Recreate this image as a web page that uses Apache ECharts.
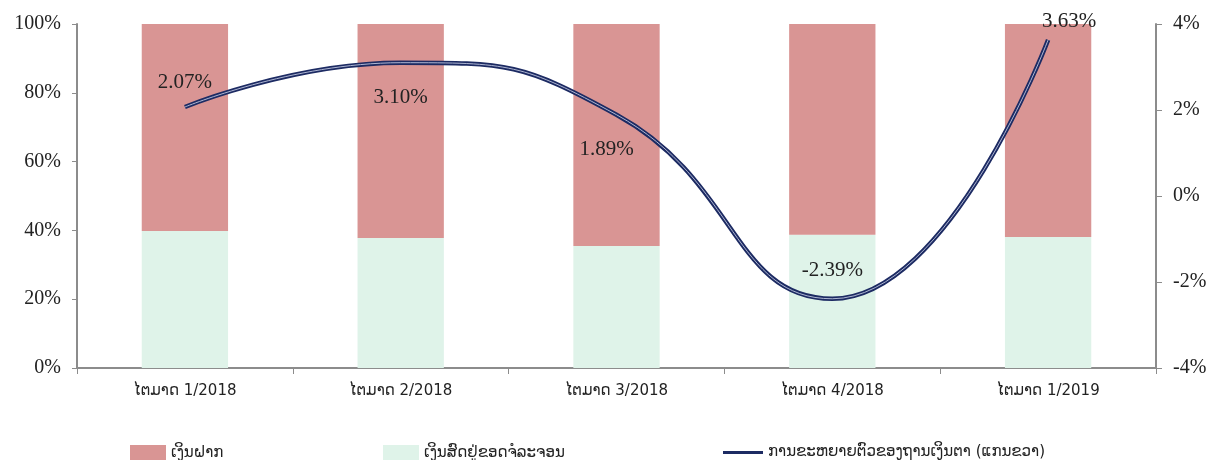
<!DOCTYPE html>
<html>
<head>
<meta charset="utf-8">
<script src="https://cdn.jsdelivr.net/npm/echarts@6/dist/echarts.min.js"></script>
<style>
	html,body{margin:0;padding:0;background:#fff;}
	#main{width:1222px;height:460px;}
</style>
</head>
<body>
<div id="main"></div>
<script>
var categories = ['ໄຕມາດ 1/2018','ໄຕມາດ 2/2018','ໄຕມາດ 3/2018','ໄຕມາດ 4/2018','ໄຕມາດ 1/2019'];
var cashShare = [39.8, 37.8, 35.5, 38.7, 38.1];
var depositShare = [60.2, 62.2, 64.5, 61.3, 61.9];
var baseGrowth = [2.07, 3.10, 1.89, -2.39, 3.63];

var nameDeposit = 'ເງິນຝາກ';
var nameCash = 'ເງິນສົດຢູ່ຂອດຈໍລະຈອນ';
var nameGrowth = 'ການຂະຫຍາຍຕົວຂອງຖານເງິນຕາ (ແກນຂວາ)';

var serif = '"Liberation Serif", "Times New Roman", serif';
var laoFont = '"DejaVu Sans", "Noto Sans", sans-serif';

// ຕຳແໜ່ງປ້າຍຂອງແຕ່ລະຈຸດ
var labelPos = [
	{position:'top', distance:14, offset:[0,0]},
	{position:'bottom', distance:24, offset:[0,0]},
	{position:'bottom', distance:24, offset:[-10,0]},
	{position:'top', distance:18, offset:[0,0]},
	{position:'top', distance:8, offset:[21,0]}
];

function growthData(){
	var res = [];
	for(var i = 0;i < baseGrowth.length;i++){
		res.push({
			value: baseGrowth[i],
			label: {
				position: labelPos[i].position,
				distance: labelPos[i].distance,
				offset: labelPos[i].offset
			}
		});
	}
	return res;
}

var chart = echarts.init(document.getElementById('main'));
var legendText = {fontFamily:laoFont, fontSize:15, color:'#222'};
var option = {
	animation: false,
	grid: {left:77, right:66, top:24, bottom:92},
	legend: [
		{left:125, top:440, itemWidth:36, itemHeight:16, itemGap:6, icon:'rect',
		 textStyle:legendText, data:[nameDeposit]},
		{left:378, top:440, itemWidth:36, itemHeight:16, itemGap:6, icon:'rect',
		 textStyle:legendText, data:[nameCash]},
		{left:718, top:440, itemWidth:40, itemHeight:16, itemGap:4,
		 textStyle:legendText,
		 data:[{name:nameGrowth, icon:'path://M0,6 L40,6 L40,9 L0,9 Z'}]}
	],
	xAxis: {
		type: 'category',
		data: categories,
		boundaryGap: true,
		axisLine: {lineStyle:{color:'#8c8c8c', width:2}},
		axisTick: {show:true, length:6, lineStyle:{color:'#8c8c8c'}},
		axisLabel: {fontFamily:laoFont, fontSize:15, color:'#222', margin:16}
	},
	yAxis: [
		{
			type: 'value', min:0, max:100, interval:20,
			axisLine: {show:true, lineStyle:{color:'#8c8c8c', width:2}},
			axisTick: {show:true, length:5, lineStyle:{color:'#8c8c8c'}},
			splitLine: {show:false},
			axisLabel: {fontFamily:serif, fontSize:20, color:'#222', margin:16, formatter:'{value}%'}
		},
		{
			type: 'value', min:-4, max:4, interval:2,
			axisLine: {show:true, lineStyle:{color:'#8c8c8c', width:2}},
			axisTick: {show:true, length:6, lineStyle:{color:'#8c8c8c'}},
			splitLine: {show:false},
			axisLabel: {fontFamily:serif, fontSize:20, color:'#222', margin:17, formatter:'{value}%'}
		}
	],
	series: [
		{
			name: nameCash,
			type: 'bar',
			stack: 'share',
			barWidth: '40%',
			data: cashShare,
			itemStyle: {color:'#dff3e9'}
		},
		{
			name: nameDeposit,
			type: 'bar',
			stack: 'share',
			barWidth: '40%',
			data: depositShare,
			itemStyle: {color:'#d99594'}
		},
		{
			name: nameGrowth,
			type: 'line',
			yAxisIndex: 1,
			smooth: 0.5,
			symbol: 'circle',
			symbolSize: 0,
			showSymbol: true,
			data: growthData(),
			lineStyle: {color:'#1d2b63', width:4.5},
			itemStyle: {color:'#1d2b63'},
			label: {show:true, fontFamily:serif, fontSize:21, color:'#222',
				formatter:function(p){return p.value.toFixed(2)+'%';}},
			z: 5
		},
		{
			name: 'inner',
			type: 'line',
			yAxisIndex: 1,
			smooth: 0.5,
			symbol: 'none',
			data: baseGrowth,
			lineStyle: {color:'#aeb6d3', width:1},
			silent: true,
			z: 6
		}
	]
};
chart.setOption(option);
</script>
</body>
</html>
